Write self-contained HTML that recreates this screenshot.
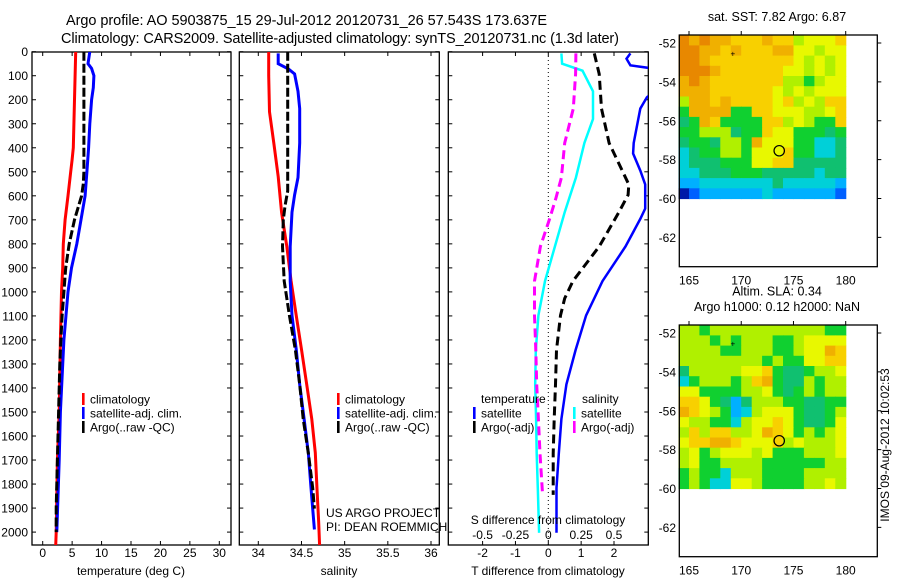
<!DOCTYPE html>
<html><head><meta charset="utf-8"><style>
html,body{margin:0;padding:0;background:#fff}
svg{display:block;font-family:"Liberation Sans",sans-serif}
</style></head><body>
<svg id="fig" width="900" height="580" xmlns="http://www.w3.org/2000/svg">
<defs>
<clipPath id="c1"><rect x="32" y="52" width="199" height="493"/></clipPath>
<clipPath id="c2"><rect x="239" y="52" width="200" height="493"/></clipPath>
<clipPath id="c3"><rect x="448" y="52" width="200" height="493"/></clipPath>
</defs>
<text x="66" y="25" font-size="14.5" textLength="481">Argo profile: AO 5903875_15 29-Jul-2012 20120731_26 57.543S 173.637E</text>
<text x="61" y="43" font-size="14.5" textLength="558">Climatology: CARS2009. Satellite-adjusted climatology: synTS_20120731.nc (1.3d later)</text>
<g id="g"></g>
</svg>
<script>
// ---- depth axis ----
const depthTicks=[0,100,200,300,400,500,600,700,800,900,1000,1100,1200,1300,1400,1500,1600,1700,1800,1900,2000];
// ---- temperature panel ----
const tempTicks=[0,5,10,15,20,25,30];
const tClimD=[0,100,200,300,400,450,500,600,700,800,900,1000,1200,1500,1700,2000,2057];
const tClimV=[5.6,5.5,5.4,5.3,5.2,5.0,4.75,4.3,3.8,3.5,3.4,3.2,3.0,2.8,2.5,2.3,2.2];
const tSatD=[0,50,70,100,150,200,300,400,500,600,700,800,900,1000,1200,1500,1700,2000];
const tSatV=[8.0,7.7,8.3,8.7,8.6,8.3,8.0,7.8,7.5,7.2,6.5,5.8,4.9,4.3,3.6,3.0,2.8,2.4];
const tArgoD=[0,100,500,550,600,700,800,900,1000,1100,1200,1300,1500,1700,1900,2000];
const tArgoV=[7.0,7.0,7.0,6.9,6.6,5.4,4.5,3.9,3.6,3.3,3.1,2.9,2.7,2.5,2.3,2.3];
// ---- salinity panel ----
const salTicks=[34,34.5,35,35.5,36];
const sClimD=[0,100,250,380,520,670,810,955,1100,1240,1385,1530,1670,1820,1960,2057];
const sClimV=[34.12,34.12,34.13,34.18,34.23,34.27,34.33,34.38,34.44,34.50,34.56,34.62,34.66,34.68,34.70,34.71];
const sSatD=[7,50,72,93,165,237,380,524,596,668,811,955,1098,1242,1385,1529,1673,1816,1989];
const sSatV=[34.23,34.23,34.35,34.42,34.46,34.48,34.48,34.46,34.42,34.39,34.37,34.37,34.39,34.44,34.48,34.53,34.58,34.61,34.65];
const sArgoD=[0,580,640,700,811,955,1098,1242,1385,1529,1673,1816,1902];
const sArgoV=[34.34,34.34,34.31,34.29,34.28,34.30,34.36,34.43,34.48,34.52,34.58,34.63,34.65];
// ---- difference panel ----
const dTTicks=[-2,-1,0,1,2];
const dSTicks=[-0.5,-0.25,0,0.25,0.5];
const dSTickLabels=["-0.5","-0.25","0","0.25","0.5"];
const dTSatD=[7,29,57,72,120,190,237,380,424,495,553,653,696,811,955,1098,1242,1385,1529,1673,1816,2003];
const dTSatV=[2.5,2.38,2.5,3.3,3.6,3.0,2.8,2.6,2.58,2.8,2.95,2.95,2.8,2.35,1.65,1.15,0.83,0.55,0.4,0.32,0.25,0.25];
const dTArgoD=[7,93,237,380,495,553,596,668,811,955,1027,1098,1242,1385,1529,1673,1845];
const dTArgoV=[1.4,1.55,1.62,1.85,2.25,2.45,2.43,2.15,1.55,0.75,0.5,0.37,0.25,0.22,0.18,0.15,0.15];
const dSSatD=[7,50,79,165,280,380,524,668,811,955,1098,1242,1385,1529,1673,1816,2003];
const dSSatV=[0.1,0.105,0.26,0.34,0.34,0.275,0.21,0.125,0.05,-0.025,-0.075,-0.095,-0.1,-0.093,-0.088,-0.08,-0.07];
const dSArgoD=[7,93,237,380,524,610,696,811,955,1098,1242,1385,1529,1673,1845];
const dSArgoV=[0.21,0.208,0.19,0.125,0.1,0.058,0.01,-0.06,-0.105,-0.105,-0.095,-0.088,-0.075,-0.063,-0.043];
// ---- maps (16 cols lon 164-180, 16 rows lat -51.6 to -60), digits index colormap ----
const sstGrid=["a9a9988898867778","aa99898889977677","aa98888888876767","aaa9888888776767","9a98888888665677","9998888887676777","6998988887867688","5999955887776678","4598555588676558","5566645587755545","4554665977755334","3455665777855334","3444555778844444","3344455544444344","2233333334333332","0122222232222221"];
const slaGrid=["6656666666666655","6665656665567777","6666556665567798","6666666656557788","4666667785445667","3566656895446566","7755556675456566","8875424666554455","9876523677754456","7665536778754457","6868866798756567","7889987778676667","6756777675556667","6755666655555566","5655366655556666","5653377655556676"];
const mapLonTicks=[165,170,175,180];
const mapLatTicks=[-52,-54,-56,-58,-60,-62];
const argoLon=173.637, argoLat=-57.543;

const NS="http://www.w3.org/2000/svg";
const G=document.getElementById('g');
function mk(tag,at,parent){const e=document.createElementNS(NS,tag);for(const k in at)e.setAttribute(k,at[k]);(parent||G).appendChild(e);return e;}
function txt(x,y,s,size,anchor,parent){const t=mk('text',{x:x,y:y,'font-size':size||12,'text-anchor':anchor||'middle'},parent);t.textContent=s;return t;}
const Y0=51.7,YS=0.2402,YB=545;
function yD(d){return Y0+d*YS;}
function lin(d0,d1,p0,p1){return v=>p0+(v-d0)/(d1-d0)*(p1-p0);}
const xT=lin(0,30,42.7,219.3), xS=lin(34,36,258.3,431), xDT=lin(0,2,548.3,614), xDS=lin(0,0.5,548.3,614);
function pathStep(D,V,fx){let s='';for(let i=0;i<D.length;i++){s+=(i?'L':'M')+fx(V[i]).toFixed(1)+','+yD(D[i]).toFixed(1);}return s;}
function series(D,V,fx,color,w,dash,clip,name){
  const p=mk('path',{d:pathStep(D,V,fx),fill:'none',stroke:color,'stroke-width':w,'clip-path':'url(#'+clip+')'});
  if(dash)p.setAttribute('stroke-dasharray',dash);
  
  
}
function frame(x,y,w,h,name){const r=mk('rect',{x:x,y:y,width:w,height:h,fill:'none',stroke:'#000','stroke-width':1.3});}
function depthTicksFor(x0,x1,labels){
  depthTicks.forEach(d=>{const y=yD(d);
    mk('line',{x1:x0,x2:x0+4,y1:y,y2:y,stroke:'#000'});mk('line',{x1:x1-4,x2:x1,y1:y,y2:y,stroke:'#000'});
    if(labels){const t=txt(28,y+4.5,String(d),12,'end');}
  });
}
function xTicks(ticks,fx,yb,labY){ticks.forEach(v=>{const x=fx(v);mk('line',{x1:x,x2:x,y1:yb,y2:yb-4,stroke:'#000'});mk('line',{x1:x,x2:x,y1:52,y2:56,stroke:'#000'});
  const t=txt(x,labY,String(v),12);});}
function legend(x,y,items,name){items.forEach((it,i)=>{const yy=y+i*14;mk('rect',{x:x,y:yy-6,width:2.6,height:12,fill:it[0]});const t=txt(x+8,yy+4.5,it[1],12,'start');});}

// Panel 1
frame(32,52,199,YB-52,'temperature-panel');
depthTicksFor(32,231,true);
xTicks(tempTicks,xT,YB,557);
series(tClimD,tClimV,xT,'#ff0000',3,null,'c1','temp-climatology-line');
series(tSatD,tSatV,xT,'#0000ff',3,null,'c1','temp-satellite-line');
series(tArgoD,tArgoV,xT,'#000',3,'9,3','c1','temp-argo-line');
legend(82,399,[['#ff0000','climatology'],['#0000ff','satellite-adj. clim.'],['#000','Argo(..raw -QC)']],'temp-legend');
let t=txt(131,575,'temperature (deg C)',12);

// Panel 2
frame(239.3,52,200,YB-52,'salinity-panel');
depthTicksFor(239.3,439.3,false);
xTicks(salTicks,xS,YB,557);
series(sClimD,sClimV,xS,'#ff0000',3,null,'c2','sal-climatology-line');
series(sSatD,sSatV,xS,'#0000ff',3,null,'c2','sal-satellite-line');
series(sArgoD,sArgoV,xS,'#000',3,'9,3','c2','sal-argo-line');
legend(337,399,[['#ff0000','climatology'],['#0000ff','satellite-adj. clim.'],['#000','Argo(..raw -QC)']],'sal-legend');
t=txt(326,517,'US ARGO PROJECT',12,'start');
t=txt(326,531,'PI: DEAN ROEMMICH',12,'start');
t=txt(339,575,'salinity',12);

// Panel 3
frame(448.3,52,200,YB-52,'difference-panel');
depthTicksFor(448.3,648.3,false);
xTicks(dTTicks,xDT,YB,557);
mk('line',{x1:xDT(0),x2:xDT(0),y1:52,y2:YB,stroke:'#000','stroke-dasharray':'1,3'});
series(dTSatD,dTSatV,xDT,'#0000ff',2.5,null,'c3','dT-satellite-line');
series(dTArgoD,dTArgoV,xDT,'#000',3,'9,5','c3','dT-argo-line');
series(dSSatD,dSSatV,xDS,'#00ffff',2.5,null,'c3','dS-satellite-line');
series(dSArgoD,dSArgoV,xDS,'#ff00ff',3,'9,5','c3','dS-argo-line');
dSTicks.forEach((v,i)=>{const s=txt(xDS(v),539,dSTickLabels[i],12);});
t=txt(548,524,'S difference from climatology',12);
t=txt(481,403,'temperature',12,'start');
t=txt(582,403,'salinity',12,'start');
legend(473,413,[['#0000ff','satellite'],['#000','Argo(-adj)']],'diff-legend-t');
legend(573,413,[['#00ffff','satellite'],['#ff00ff','Argo(-adj)']],'diff-legend-s');
t=txt(548,575,'T difference from climatology',12);

// Maps
const cmap={'0':'#0018a8','1':'#0060ff','2':'#00b0ff','3':'#00d0d8','4':'#10c070','5':'#10d030','6':'#b0f000','7':'#e8f800','8':'#f8d000','9':'#f0b000','a':'#e88800'};
function drawMap(grid,top,titleLines,name){
  const left=679.3,right=877.3,bottom=top+231.7;
  const xL=lin(165,180,689,845.7), yL=lin(-52,-60,top+8,top+163.5);
  const lon0=164,lat0=-51.6,dLat=(60-51.6)/16;
  const g=mk('g',{});
  grid.forEach((row,r)=>{for(let c=0;c<16;c++){
    const x0=xL(lon0+c),x1=xL(lon0+c+1),y0=yL(lat0-r*dLat),y1=yL(lat0-(r+1)*dLat);
    mk('rect',{x:x0.toFixed(1),y:y0.toFixed(1),width:(x1-x0+0.6).toFixed(1),height:(y1-y0+0.6).toFixed(1),fill:cmap[row[c]]},g);}});
  frame(left,top,right-left,bottom-top,name+'-frame');
  mapLonTicks.forEach(v=>{const x=xL(v);mk('line',{x1:x,x2:x,y1:top,y2:top-4,stroke:'#000'});const s=txt(x,bottom+18,String(v),12);});
  mapLatTicks.forEach(v=>{const y=yL(v);mk('line',{x1:right,x2:right+4,y1:y,y2:y,stroke:'#000'});const s=txt(676,y+4.5,String(v),12,'end');});
  const c=mk('circle',{cx:xL(argoLon),cy:yL(argoLat),r:5.2,fill:'none',stroke:'#000','stroke-width':1.2});
  txt(xL(169.2),yL(-52.6)+2,'+',8);
  titleLines.forEach((s,i)=>{const tt=txt(777,top-14-(titleLines.length-1-i)*15.5,s,12.5);});
}
drawMap(sstGrid,35,['sat. SST: 7.82 Argo: 6.87'],'sst-map');
drawMap(slaGrid,325,['Altim. SLA: 0.34','Argo h1000: 0.12 h2000: NaN'],'sla-map');
t=txt(0,0,'IMOS 09-Aug-2012 10:02:53',12);t.setAttribute('transform','translate(889,445) rotate(-90)');


</script>
</body></html>
